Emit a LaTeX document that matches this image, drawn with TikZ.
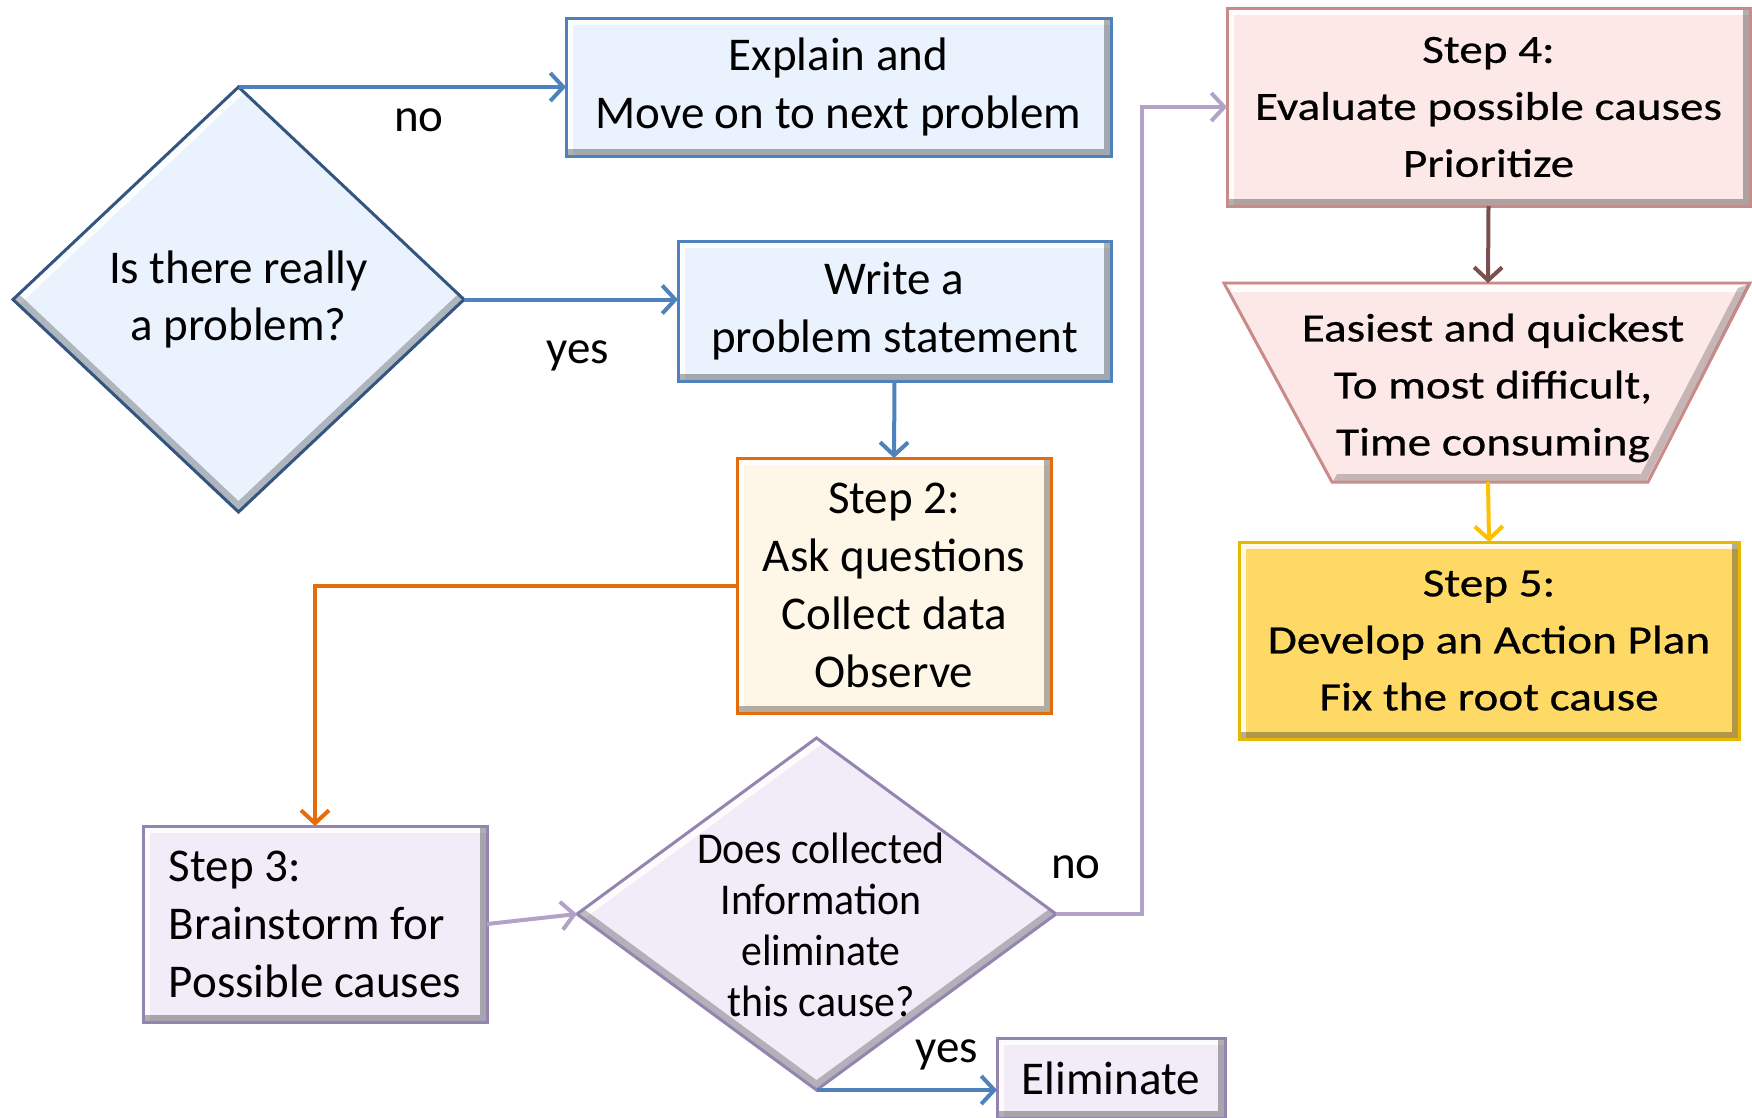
\documentclass[tikz,border=0pt]{standalone}
\usepackage{fontspec}
\setmainfont{Carlito}
\newfontfamily\wideface[FakeStretch=1.18,FakeBold=0.6]{Carlito}
\newfontfamily\narrowface[FakeStretch=0.95]{Carlito}
\usetikzlibrary{arrows.meta,shapes.geometric,calc}
\definecolor{bluefill}{HTML}{E9F2FD}
\definecolor{blueline}{HTML}{4F81BD}
\definecolor{bluedark}{HTML}{34557F}
\definecolor{orangeline}{HTML}{E46C0A}
\definecolor{creamfill}{HTML}{FEF6E6}
\definecolor{lavfill}{HTML}{F1ECF8}
\definecolor{lavline}{HTML}{9484B0}
\definecolor{lavarrow}{HTML}{B3A2C7}
\definecolor{pinkfill}{HTML}{FDE8E8}
\definecolor{pinkline}{HTML}{C98B89}
\definecolor{goldfill}{HTML}{FFD966}
\definecolor{goldline}{HTML}{E6B800}
\definecolor{brownarrow}{HTML}{7A4F4F}
\definecolor{yellowarrow}{HTML}{FFC000}
\tikzset{
  bevelrect/.style={path picture={
    \draw[white,opacity=0.85,line width=14pt] (path picture bounding box.south west) -- (path picture bounding box.north west) -- (path picture bounding box.north east);
    \draw[black,opacity=0.3,line width=14pt] (path picture bounding box.south west) -- (path picture bounding box.south east) -- (path picture bounding box.north east);
  }},
  beveldia/.style={path picture={
    \draw[white,opacity=0.85,line width=16pt] (path picture bounding box.west) -- (path picture bounding box.north);
    \draw[black,opacity=0.25,line width=16pt] (path picture bounding box.west) -- (path picture bounding box.south) -- (path picture bounding box.east);
  }},
  boxbase/.style={rectangle, inner sep=0pt, outer sep=0pt, line width=3pt, align=center,
    font=\fontsize{47}{58}\selectfont, bevelrect},
  bluebox/.style={boxbase, draw=blueline, fill=bluefill},
  orangebox/.style={boxbase, draw=orangeline, fill=creamfill},
  lavbox/.style={boxbase, draw=lavline, fill=lavfill},
  widefont/.style={font=\wideface\fontsize{40}{57}\selectfont},
  pinkbox/.style={boxbase, draw=pinkline, fill=pinkfill, widefont},
  goldbox/.style={boxbase, draw=goldline, fill=goldfill, widefont},
  diabox/.style={diamond, inner sep=0pt, outer sep=0pt, line width=3pt, beveldia},
  lbl/.style={inner sep=0pt, font=\fontsize{47}{58}\selectfont},
  conn/.style={line width=4pt, -{Straight Barb[length=13pt,width=28pt,line width=4pt]}},
  blueconn/.style={conn, draw=blueline},
}
\begin{document}
\begin{tikzpicture}[x=1pt,y=-1pt]
\useasboundingbox (0,0) rectangle (1752,1117);
\clip (0,0) rectangle (1752,1117);
\fill[white] (0,0) rectangle (1752,1117);

% nodes
\node[diabox, draw=bluedark, fill=bluefill, minimum width=451pt, minimum height=425pt,
      align=center, font=\fontsize{47}{57}\selectfont] (d1) at (238.5,299.5) {Is there really\\a problem?};
\node[bluebox, minimum width=545pt, minimum height=138pt] (explain) at (838.5,87) {Explain and\\Move on to next problem};
\node[bluebox, minimum width=433pt, minimum height=140pt] (write) at (894.5,311) {Write a\\problem statement};
\node[orangebox, minimum width=314pt, minimum height=255pt] (step2) at (894,585.5) {Step 2:\\Ask questions\\Collect data\\Observe};
\node[lavbox, minimum width=344pt, minimum height=196pt, align=left] (step3) at (315,924) {Step 3:\\Brainstorm for\\Possible causes};
\node[diabox, draw=lavline, fill=lavfill, minimum width=479pt, minimum height=352pt] (d2) at (816.5,914) {};
\node[align=center, inner sep=0pt, font=\narrowface\fontsize{44}{51}\selectfont] (d2t) at (821,925) {Does collected\\Information\\eliminate\\this cause?};
\node[lavbox, minimum width=228pt, minimum height=80pt] (elim) at (1111,1078) {Eliminate};
\node[pinkbox, minimum width=523pt, minimum height=198pt] (step4) at (1488.5,107) {Step 4:\\Evaluate possible causes\\Prioritize};
\draw[line width=3pt, draw=pinkline, fill=pinkfill] (1224,283) -- (1750,283) -- (1648,482) -- (1332,482) -- cycle;
\fill[white,opacity=0.85] (1226,284.5) -- (1747,284.5) -- (1742,292) -- (1232,292) -- cycle;
\fill[black,opacity=0.22] (1748,284.5) -- (1646.5,480.5) -- (1333.5,480.5) -- (1337,474) -- (1641,474) -- (1738,288) -- cycle;
\node[inner sep=0pt, outer sep=0pt, minimum width=526pt, minimum height=199pt] (trap) at (1488,382.5) {};
\node[align=center, inner sep=0pt, widefont] (trapt) at (1493,388) {Easiest and quickest\\To most difficult,\\Time consuming};
\node[goldbox, minimum width=500pt, minimum height=197pt] (step5) at (1489,640.5) {Step 5:\\Develop an Action Plan\\Fix the root cause};

% connectors
\draw[blueconn] (d1.north) -- (explain.west);
\draw[blueconn] (d1.east) -- (d1.east -| write.west);
\draw[blueconn] (write.south) -- (step2.north);
\draw[conn, draw=orangeline] (step2.west) -| (step3.north);
\draw[conn, draw=lavarrow] (step3.east) -- (d2.west);
\coordinate (turn) at (1142,0);
\draw[conn, draw=lavarrow] (d2.east) -| (turn |- step4.west) -- (step4.west);
\draw[blueconn] (d2.south) -- (d2.south -| elim.west);
\draw[conn, draw=brownarrow] (step4.south) -- (trap.north);
\draw[conn, draw=yellowarrow] (trap.south) -- (step5.north);

% labels
\node[lbl] (no1) at (419,120) {no};
\node[lbl] (yes1) at (578,356) {yes};
\node[lbl] (no2) at (1076,867) {no};
\node[lbl] (yes2) at (947,1055) {yes};
\end{tikzpicture}
\end{document}
